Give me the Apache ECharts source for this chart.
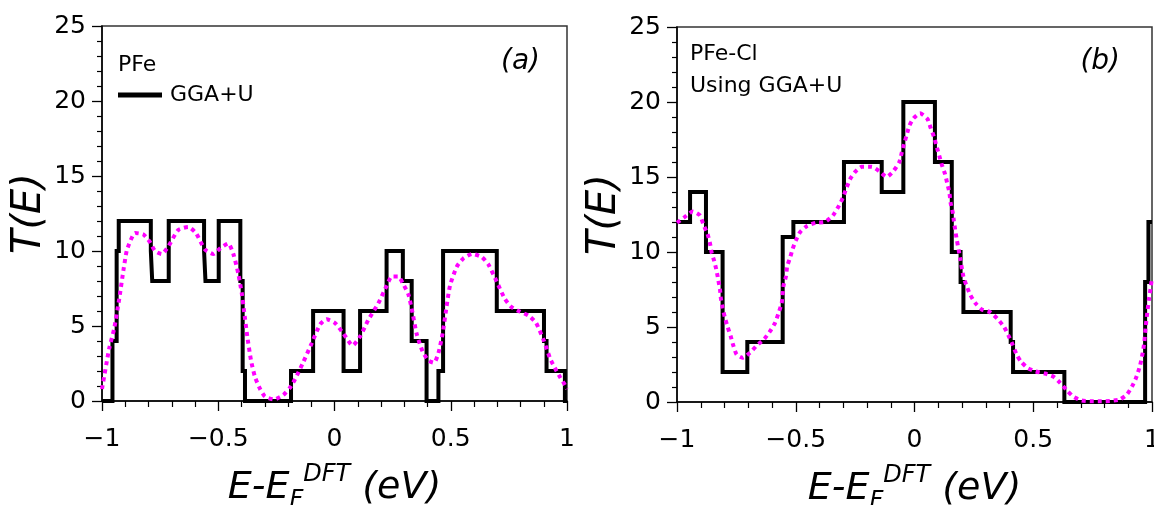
<!DOCTYPE html>
<html>
<head>
<meta charset="utf-8">
<script src="https://cdn.jsdelivr.net/npm/echarts/dist/echarts.min.js"></script>
<style>html,body{margin:0;padding:0;background:#fff}#c{width:1154px;height:505px}</style>
</head>
<body>
<div id="c"></div>
<script>
// ---- Panel (a): PFe, GGA+U step transmission ----
const stepEnergyA = [-1, -0.955, -0.937, -0.928, -0.790, -0.784, -0.713, -0.561, -0.555, -0.498, -0.405, -0.395, -0.385, -0.187, -0.092, 0.039, 0.110, 0.224, 0.294, 0.332, 0.396, 0.447, 0.467, 0.698, 0.901, 0.912, 0.991, 1];
const stepTransA  = [0, 4, 10, 12, 10, 8, 12, 10, 8, 12, 8, 2, 0, 2, 6, 2, 6, 10, 8, 4, 0, 2, 10, 6, 4, 2, 0, 0];
// smoothed (dotted magenta) curve, panel (a)
const smoothEnergyA = [-1.0, -0.969, -0.948, -0.926, -0.908, -0.894, -0.880, -0.858, -0.822, -0.794, -0.772, -0.743, -0.715, -0.672, -0.629, -0.596, -0.557, -0.521, -0.490, -0.457, -0.435, -0.414, -0.399, -0.389, -0.375, -0.359, -0.342, -0.320, -0.299, -0.260, -0.220, -0.191, -0.170, -0.134, -0.098, -0.062, -0.034, 0.002, 0.038, 0.078, 0.110, 0.145, 0.188, 0.225, 0.246, 0.274, 0.299, 0.318, 0.336, 0.353, 0.379, 0.404, 0.428, 0.447, 0.465, 0.482, 0.497, 0.526, 0.554, 0.593, 0.633, 0.662, 0.698, 0.733, 0.762, 0.798, 0.834, 0.867, 0.901, 0.927, 0.948, 0.970, 0.991, 1.0];
const smoothTransA  = [0.8, 3.5, 4.8, 6.8, 8.7, 10.0, 10.6, 11.2, 11.1, 10.6, 10.0, 9.8, 10.3, 11.4, 11.6, 11.2, 10.1, 9.8, 10.2, 10.5, 9.8, 8.5, 7.2, 6.0, 4.3, 2.7, 1.6, 0.8, 0.3, 0.1, 0.4, 0.9, 1.45, 2.6, 3.85, 5.1, 5.45, 5.2, 4.5, 3.7, 4.3, 5.4, 6.5, 7.7, 8.3, 8.3, 7.7, 7.1, 5.85, 4.5, 3.3, 2.7, 2.55, 3.2, 4.5, 6.3, 7.7, 8.95, 9.5, 9.8, 9.6, 9.1, 7.95, 6.8, 6.25, 5.95, 5.7, 5.2, 4.0, 2.85, 2.2, 1.6, 1.07, 0.8];

// ---- Panel (b): PFe-Cl, GGA+U step transmission ----
const stepEnergyB = [-1, -0.945, -0.878, -0.808, -0.704, -0.555, -0.510, -0.297, -0.138, -0.047, 0.086, 0.157, 0.194, 0.206, 0.405, 0.415, 0.631, 0.971, 0.985, 1];
const stepTransB  = [12, 14, 10, 2, 4, 11, 12, 16, 14, 20, 16, 10, 8, 6, 4, 2, 0, 8, 12, 12];
const smoothEnergyB = [-1.0, -0.966, -0.934, -0.903, -0.889, -0.872, -0.861, -0.854, -0.843, -0.833, -0.826, -0.819, -0.815, -0.808, -0.798, -0.787, -0.774, -0.763, -0.749, -0.725, -0.693, -0.664, -0.632, -0.608, -0.587, -0.573, -0.559, -0.552, -0.541, -0.536, -0.524, -0.513, -0.499, -0.482, -0.454, -0.416, -0.377, -0.344, -0.321, -0.302, -0.288, -0.272, -0.251, -0.222, -0.180, -0.148, -0.117, -0.089, -0.064, -0.054, -0.044, -0.033, -0.022, -0.005, 0.023, 0.054, 0.068, 0.082, 0.093, 0.104, 0.115, 0.128, 0.138, 0.147, 0.152, 0.161, 0.166, 0.171, 0.178, 0.192, 0.206, 0.220, 0.234, 0.255, 0.283, 0.318, 0.349, 0.377, 0.395, 0.413, 0.430, 0.447, 0.475, 0.507, 0.549, 0.584, 0.613, 0.641, 0.669, 0.704, 0.746, 0.788, 0.830, 0.865, 0.894, 0.915, 0.933, 0.949, 0.961, 0.968, 0.973, 0.980, 0.987, 0.995, 1.0];
const smoothTransB  = [11.95, 12.35, 12.7, 12.43, 11.83, 11.23, 10.57, 9.95, 9.39, 8.72, 8.12, 7.5, 6.88, 6.28, 5.61, 5.01, 4.39, 3.77, 3.17, 2.95, 3.28, 3.77, 4.21, 4.72, 5.28, 5.9, 6.61, 7.72, 8.39, 9.05, 9.61, 10.21, 10.79, 11.32, 11.72, 11.95, 12.0, 12.43, 13.0, 13.6, 14.2, 14.83, 15.32, 15.68, 15.68, 15.39, 15.01, 15.39, 15.99, 16.6, 17.2, 17.8, 18.4, 18.9, 19.25, 18.88, 18.28, 17.68, 17.05, 16.43, 15.83, 15.23, 14.57, 13.95, 13.28, 12.65, 12.05, 11.5, 10.83, 9.61, 8.35, 7.72, 7.17, 6.61, 6.17, 5.99, 5.55, 5.01, 4.45, 3.83, 3.17, 2.72, 2.28, 2.05, 1.9, 1.7, 1.28, 0.79, 0.35, 0.1, 0.05, 0.05, 0.08, 0.17, 0.5, 1.01, 1.61, 2.39, 3.28, 4.05, 4.94, 5.95, 6.83, 7.68, 8.3];

// axis ranges / tick steps
const xRange = [-1, 1], xStep = 0.5;
const yRange = [0, 25], yStep = 5;

const FONT = 'DejaVu Sans';
const zip = (a, b) => a.slice(0, Math.min(a.length, b.length)).map((v, i) => [v, b[i]]);
const fmt = v => (v === 0 ? '0' : String(v).replace('-', '\u2212'));

function xAxisFor(gi) {
  return {
    type: 'value', gridIndex: gi, min: xRange[0], max: xRange[1], interval: xStep,
    axisLine: { show: true, onZero: false, lineStyle: { color: '#000', width: 1.5 } },
    axisTick: { show: true, length: 10, lineStyle: { color: '#000', width: 1.3 } },
    minorTick: { show: true, splitNumber: 5, length: 6, lineStyle: { color: '#000', width: 1.2 } },
    splitLine: { show: false },
    axisLabel: { formatter: fmt, fontSize: 25, fontFamily: FONT, color: '#000', margin: 26 },
    name: '{m|E-E}{s|F}{p|DFT}{m| (eV)}',
    nameLocation: 'middle', nameGap: 62,
    nameTextStyle: {
      fontFamily: FONT, fontStyle: 'italic', color: '#000',
      rich: {
        m: { fontSize: 38, lineHeight: 50, fontStyle: 'italic', fontFamily: FONT, color: '#000' },
        s: { fontSize: 24, lineHeight: 24, verticalAlign: 'bottom', fontStyle: 'italic', fontFamily: FONT, color: '#000' },
        p: { fontSize: 24, lineHeight: 24, verticalAlign: 'top', fontStyle: 'italic', fontFamily: FONT, color: '#000' }
      }
    }
  };
}
function yAxisFor(gi) {
  return {
    type: 'value', gridIndex: gi, min: yRange[0], max: yRange[1], interval: yStep,
    axisLine: { show: true, onZero: false, lineStyle: { color: '#000', width: 1.5 } },
    axisTick: { show: true, length: 10, lineStyle: { color: '#000', width: 1.3 } },
    minorTick: { show: true, splitNumber: 5, length: 5, lineStyle: { color: '#000', width: 1.2 } },
    splitLine: { show: false },
    axisLabel: { fontSize: 25, fontFamily: FONT, color: '#000', margin: 16 },
    name: 'T(E)', nameLocation: 'middle', nameGap: 52, nameRotate: 90,
    nameTextStyle: { fontSize: 40, fontStyle: 'italic', fontFamily: FONT, color: '#000' }
  };
}
function stepSeries(name, idx, e, t) {
  return {
    name, type: 'line', xAxisIndex: idx, yAxisIndex: idx, step: 'end',
    data: zip(e, t), showSymbol: false, symbol: 'none', z: 3,
    lineStyle: { color: '#000', width: 4, join: 'miter', cap: 'butt' },
    itemStyle: { color: '#000' }
  };
}
function smoothSeries(name, idx, e, t) {
  return {
    name, type: 'line', xAxisIndex: idx, yAxisIndex: idx,
    data: zip(e, t), showSymbol: false, symbol: 'none', smooth: 0.2, z: 4,
    lineStyle: { color: '#ff00ff', width: 4, type: [4, 4], cap: 'butt' },
    itemStyle: { color: '#ff00ff' }
  };
}

const chart = echarts.init(document.getElementById('c'), null, { renderer: 'canvas' });
chart.setOption({
  animation: false,
  backgroundColor: '#fff',
  grid: [
    { left: 102, top: 26, width: 465, height: 375, containLabel: false, outerBoundsMode: 'none', show: true, borderColor: '#333', borderWidth: 1.5, backgroundColor: 'transparent' },
    { left: 677, top: 27, width: 475, height: 375, containLabel: false, outerBoundsMode: 'none', show: true, borderColor: '#333', borderWidth: 1.5, backgroundColor: 'transparent' }
  ],
  xAxis: [xAxisFor(0), xAxisFor(1)],
  yAxis: [yAxisFor(0), yAxisFor(1)],
  legend: {
    data: ['GGA+U'], left: 118, top: 84, padding: 0, icon: 'rect', itemWidth: 44, itemHeight: 5,
    selectedMode: false, textStyle: { fontSize: 22, fontFamily: FONT, color: '#000', padding: [0, 0, 0, 3] }
  },
  graphic: [
    { type: 'text', x: 118, y: 65, style: { text: 'PFe', font: '22px "DejaVu Sans"', fill: '#000', verticalAlign: 'middle', align: 'left' } },
    { type: 'text', x: 540, y: 62, style: { text: '(a)', font: 'italic 28px "DejaVu Sans"', fill: '#000', verticalAlign: 'middle', align: 'right' } },
    { type: 'text', x: 690, y: 54, style: { text: 'PFe-Cl', font: '22px "DejaVu Sans"', fill: '#000', verticalAlign: 'middle', align: 'left' } },
    { type: 'text', x: 690, y: 86, style: { text: 'Using GGA+U', font: '22px "DejaVu Sans"', fill: '#000', verticalAlign: 'middle', align: 'left' } },
    { type: 'text', x: 1120, y: 62, style: { text: '(b)', font: 'italic 28px "DejaVu Sans"', fill: '#000', verticalAlign: 'middle', align: 'right' } }
  ],
  series: [
    stepSeries('GGA+U', 0, stepEnergyA, stepTransA),
    smoothSeries('smoothed (a)', 0, smoothEnergyA, smoothTransA),
    stepSeries('GGA+U (b)', 1, stepEnergyB, stepTransB),
    smoothSeries('smoothed (b)', 1, smoothEnergyB, smoothTransB)
  ]
});
</script>
</body>
</html>
